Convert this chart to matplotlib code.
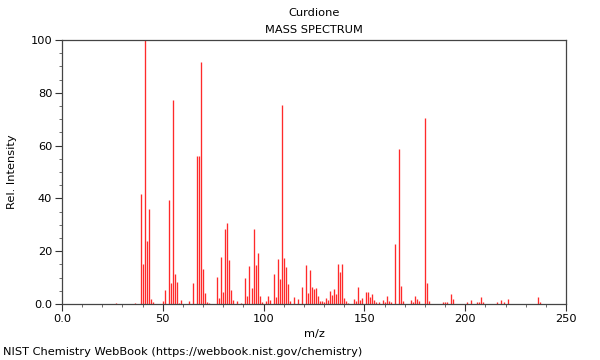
import matplotlib
matplotlib.use("Agg")
import matplotlib.pyplot as plt
from matplotlib.ticker import MultipleLocator, FixedLocator

title = "Curdione"
subtitle = "MASS SPECTRUM"
footer = "NIST Chemistry WebBook (https://webbook.nist.gov/chemistry)"

mz = [27, 36, 39, 40, 41, 42, 43, 44, 45, 50, 51, 53, 54, 55, 56, 57, 58, 59,
      63, 65, 67, 68, 69, 70, 71, 72, 73,
      77, 78, 79, 80, 81, 82, 83, 84, 85, 87, 89,
      91, 92, 93, 94, 95, 96, 97, 98, 99, 101, 102, 103,
      105, 106, 107, 108, 109, 110, 111, 112, 113, 115, 117,
      119, 121, 122, 123, 124, 125, 126, 127, 128, 129, 130, 131, 132, 133, 134,
      135, 136, 137, 138, 139, 140, 141, 142, 145, 146, 147, 148, 149,
      151, 152, 153, 154, 155, 156, 157, 159, 160, 161, 162, 163,
      165, 167, 168, 169, 173, 174, 175, 176, 177, 180, 181, 182,
      189, 190, 191, 193, 194, 201, 203, 206, 207, 208, 209,
      216, 218, 219, 221, 236, 237]
intensity = [0.5, 0.5, 41.7, 15.2, 100, 23.7, 35.9, 1.8, 0.9, 1.0, 5.3, 39.4, 7.8, 77.2, 11.4, 8.3, 0.5, 1.6,
             1.1, 7.8, 56.2, 56.2, 91.8, 13.3, 4.3, 0.8, 0.5,
             10.3, 2.1, 17.8, 4.5, 28.3, 30.7, 16.7, 5.3, 1.5, 1.0, 0.5,
             9.8, 3.0, 14.4, 6.0, 28.4, 14.6, 19.3, 3.0, 0.8, 1.0, 3.2, 1.5,
             11.4, 2.5, 16.9, 9.3, 75.4, 17.4, 14.0, 7.6, 1.2, 2.5, 2.0,
             6.3, 14.7, 4.3, 12.8, 6.3, 5.5, 5.9, 3.0, 1.3, 1.3, 0.8, 2.4, 1.5, 4.9, 3.3,
             5.6, 3.8, 15.2, 12.1, 15.2, 2.1, 1.0, 0.5, 1.8, 1.0, 6.6, 1.7, 2.3,
             4.7, 4.7, 2.8, 3.7, 1.5, 0.8, 0.8, 1.5, 0.7, 2.9, 1.0, 0.7,
             22.7, 58.8, 6.8, 1.0, 1.5, 0.8, 2.9, 1.9, 1.0, 70.4, 8.1, 1.0,
             0.8, 0.8, 0.8, 3.8, 1.8, 0.8, 1.5, 0.8, 0.8, 2.8, 0.8,
             0.8, 1.5, 0.8, 2.0, 2.7, 0.8]

xticks = [0, 50, 100, 150, 200, 250]
xticklabels = ["0.0", "50", "100", "150", "200", "250"]
yticks = [0, 20, 40, 60, 80, 100]
yticklabels = ["0.0", "20", "40", "60", "80", "100"]

fig = plt.figure(figsize=(6, 3.6), dpi=100)
ax = fig.add_axes([62/600, 56/360, 504/600, 264/360])
ax.vlines(mz, 0, intensity, colors="#ff2a2a", linewidth=0.95)
ax.set_xlim(0, 250)
ax.set_ylim(0, 100)
ax.xaxis.set_major_locator(FixedLocator(xticks))
ax.set_xticklabels(xticklabels)
ax.yaxis.set_major_locator(FixedLocator(yticks))
ax.set_yticklabels(yticklabels)
ax.xaxis.set_minor_locator(MultipleLocator(10))
ax.yaxis.set_minor_locator(MultipleLocator(5))
ax.tick_params(which="major", length=5, width=0.8, color="#333333", labelsize=8.2, pad=2)
ax.tick_params(which="minor", length=2.5, width=0.6, color="#555555")
for s in ax.spines.values():
    s.set_color("#444444")
    s.set_linewidth(0.9)
ax.set_xlabel("m/z", fontsize=8.2, labelpad=4)
ax.set_ylabel("Rel. Intensity", fontsize=8.2, labelpad=10)
fig.text(314/600, 1 - 13/360, title, ha="center", va="center", fontsize=8.2)
fig.text(314/600, 1 - 30/360, subtitle, ha="center", va="center", fontsize=8.2)
fig.text(3/600, 1 - 352/360, footer, ha="left", va="center", fontsize=8.2)
fig.savefig("out.png", dpi=100)
